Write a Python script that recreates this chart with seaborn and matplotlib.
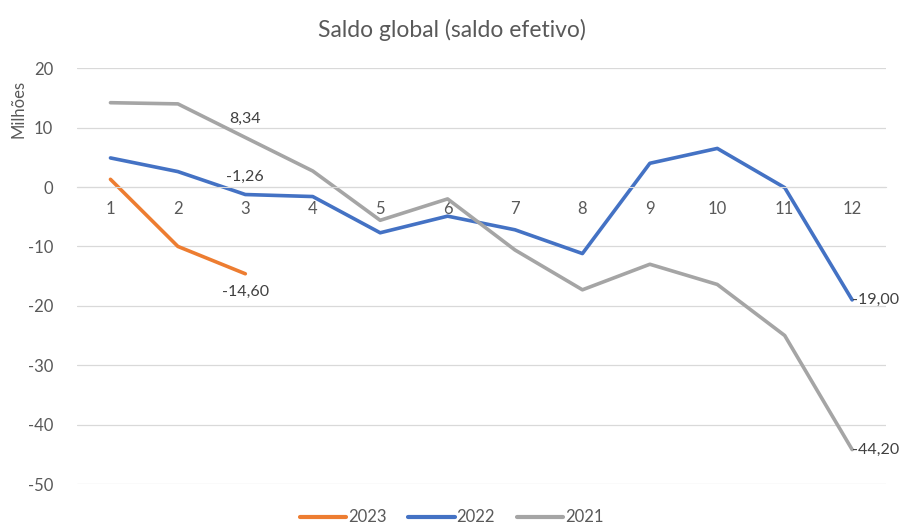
import matplotlib
matplotlib.use("Agg")
import matplotlib.pyplot as plt
import seaborn as sns
import pandas as pd

months = list(range(1, 13))
saldo_2023 = [1.3, -10.0, -14.60]
saldo_2022 = [4.9, 2.6, -1.26, -1.6, -7.7, -4.9, -7.2, -11.2, 4.0, 6.5, -0.1, -19.00]
saldo_2021 = [14.2, 14.0, 8.34, 2.7, -5.6, -2.0, -10.6, -17.3, -13.0, -16.4, -25.0, -44.20]
y_ticks = [20, 10, 0, -10, -20, -30, -40, -50]

series = {"2023": saldo_2023, "2022": saldo_2022, "2021": saldo_2021}
colors = {"2023": "#ED7D31", "2022": "#4472C4", "2021": "#A5A5A5"}

rows = []
for year, vals in series.items():
    for m, v in zip(months, vals):
        rows.append({"mes": m, "saldo": v, "ano": year})
df = pd.DataFrame(rows)

sns.set_style("white")
plt.rcParams["font.family"] = ["Lato", "DejaVu Sans"]
plt.rcParams["axes.unicode_minus"] = False

fig = plt.figure(figsize=(9.03, 5.29), dpi=100)
ax = fig.add_axes([0.085, 0.085, 0.896, 0.786])

sns.lineplot(data=df, x="mes", y="saldo", hue="ano", palette=colors,
             hue_order=["2023", "2022", "2021"], linewidth=2.6, ax=ax,
             legend=True)

ax.set_xlim(0.5, 12.5)
ax.set_ylim(-50, 20)
ax.set_yticks(y_ticks)
ax.set_xticks(months)
ax.yaxis.grid(True, color="#D9D9D9", linewidth=0.9)
ax.xaxis.grid(False)
ax.set_axisbelow(True)
for s in ["top", "right", "left"]:
    ax.spines[s].set_visible(False)
ax.spines["bottom"].set_position(("data", 0))
ax.spines["bottom"].set_color("#D9D9D9")
ax.tick_params(axis="both", length=0, labelsize=12, colors="#595959")
ax.tick_params(axis="x", pad=10)
ax.tick_params(axis="y", pad=17)
ax.set_xlabel("")
ax.set_ylabel("")

fig.text(0.02, 0.795, "Milhões", rotation=90, ha="center", va="center",
         fontsize=12, color="#595959")
fig.suptitle("Saldo global (saldo efetivo)", y=0.965, fontsize=16.5, color="#595959")

# rótulos de dados
lab = dict(fontsize=11.5, color="#404040")
ax.annotate("8,34", (3, saldo_2021[2]), xytext=(0, 8), textcoords="offset points",
            ha="center", va="bottom", **lab)
ax.annotate("-1,26", (3, saldo_2022[2]), xytext=(0, 8), textcoords="offset points",
            ha="center", va="bottom", **lab)
ax.annotate("-14,60", (3, saldo_2023[2]), xytext=(0, -8), textcoords="offset points",
            ha="center", va="top", **lab)
ax.annotate("-19,00", (12, saldo_2022[11]), xytext=(0, 0), textcoords="offset points",
            ha="left", va="center", **lab)
ax.annotate("-44,20", (12, saldo_2021[11]), xytext=(0, 0), textcoords="offset points",
            ha="left", va="center", **lab)

handles, labels = ax.get_legend_handles_labels()
ax.get_legend().remove()
leg = fig.legend(handles, labels, loc="center", bbox_to_anchor=(0.5, 0.022), ncol=3,
                 frameon=False, fontsize=12, handlelength=2.8,
                 handletextpad=0.1, columnspacing=1.3)
for t in leg.get_texts():
    t.set_color("#595959")
for line in leg.get_lines():
    line.set_linewidth(3)

fig.savefig("out.png", dpi=100)
